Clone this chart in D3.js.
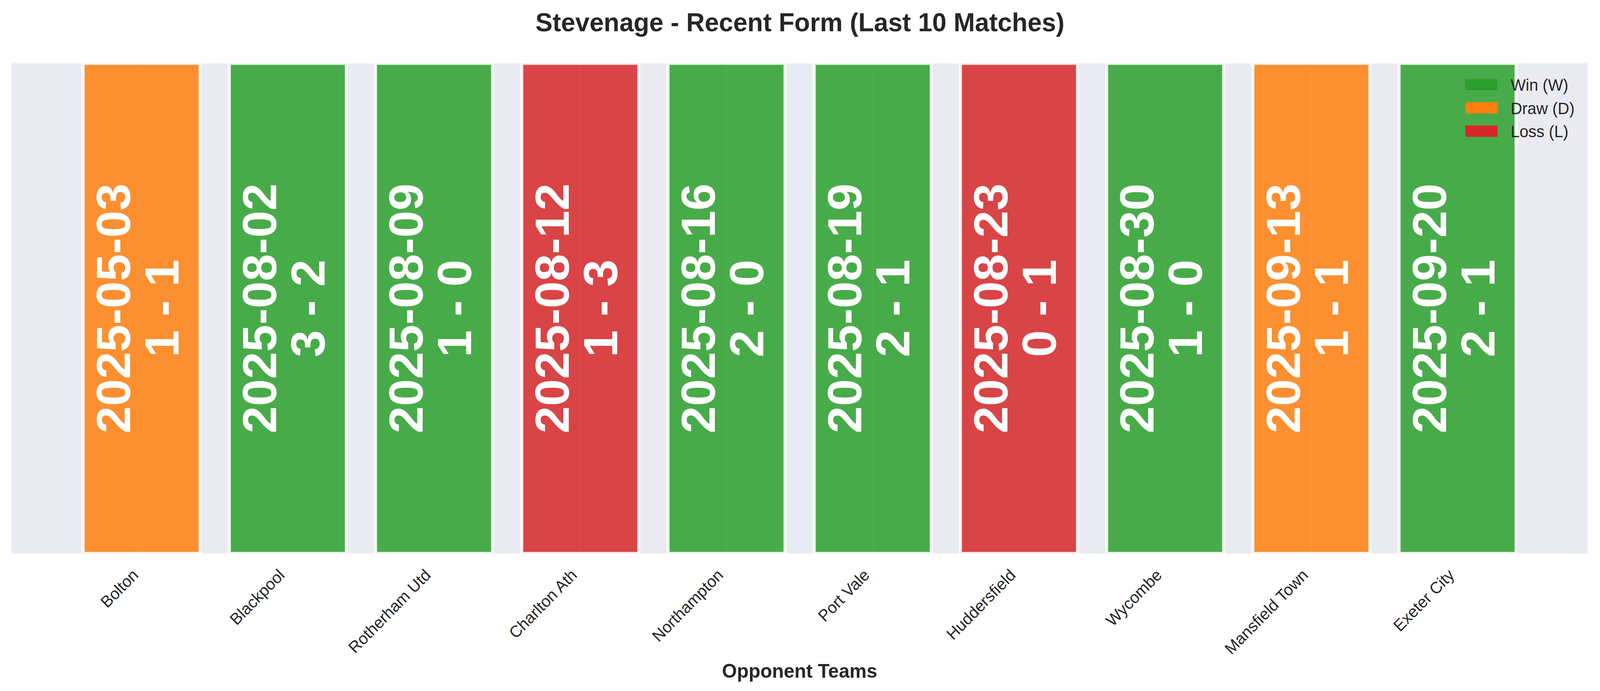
<!DOCTYPE html>
<html>
<head>
<meta charset="utf-8">
<script src="https://cdn.jsdelivr.net/npm/d3@7"></script>
<style>
  html, body { margin: 0; padding: 0; overflow: hidden; background: #ffffff; }
  svg { display: block; width: 100vw; height: 100vh; font-family: "Liberation Sans", Arial, sans-serif; }
</style>
</head>
<body>
<svg id="chart"></svg>
<script>
// match data, oldest first
const opponents = ["Bolton", "Blackpool", "Rotherham Utd", "Charlton Ath", "Northampton",
                   "Port Vale", "Huddersfield", "Wycombe", "Mansfield Town", "Exeter City"];
const matchDates = ["2025-05-03", "2025-08-02", "2025-08-09", "2025-08-12", "2025-08-16",
                    "2025-08-19", "2025-08-23", "2025-08-30", "2025-09-13", "2025-09-20"];
const scores = ["1 - 1", "3 - 2", "1 - 0", "1 - 3", "2 - 0", "2 - 1", "0 - 1", "1 - 0", "1 - 1", "2 - 1"];
const results = ["D", "W", "W", "L", "W", "W", "L", "W", "D", "W"];
const barHeights = [1, 1, 1, 1, 1, 1, 1, 1, 1, 1];

const resultKeys = ["W", "D", "L"];
const resultLabels = ["Win (W)", "Draw (D)", "Loss (L)"];
const resultColors = ["#2ca02c", "#ff7f0e", "#d62728"];

const W = 4170, H = 1768;
const margin = { top: 162, right: 32, bottom: 352, left: 30 };
const innerW = W - margin.left - margin.right;
const innerH = H - margin.top - margin.bottom;
const textColor = "#262626";

// drawn in a 4170x1768 frame, stretched to whatever the viewport is
const svg = d3.select("#chart")
    .attr("viewBox", "0 0 " + W + " " + H)
    .attr("preserveAspectRatio", "none");

const color = d3.scaleOrdinal().domain(resultKeys).range(resultColors);

const x = d3.scaleBand()
    .domain(d3.range(opponents.length))
    .range([0, innerW])
    .paddingInner(0.2)
    .paddingOuter(0.49);

const y = d3.scaleLinear().domain([0, 1]).range([innerH, 0]);

const g = svg.append("g")
    .attr("transform", "translate(" + margin.left + "," + margin.top + ")");

g.append("defs").append("clipPath").attr("id", "plotClip")
  .append("rect").attr("width", innerW).attr("height", innerH);

g.append("rect")
    .attr("width", innerW)
    .attr("height", innerH)
    .attr("fill", "#eaeaf2");

// vertical grid at each tick
g.selectAll(".grid")
    .data(d3.range(opponents.length))
    .enter()
    .append("line")
    .attr("x1", d => x(d) + x.bandwidth() / 2)
    .attr("x2", d => x(d) + x.bandwidth() / 2)
    .attr("y1", 0)
    .attr("y2", innerH)
    .attr("stroke", "#ffffff")
    .attr("stroke-width", 3.5);

const bars = g.append("g").attr("clip-path", "url(#plotClip)");

bars.selectAll("rect")
    .data(barHeights)
    .enter()
    .append("rect")
    .attr("x", (d, i) => x(i))
    .attr("y", d => y(d))
    .attr("width", x.bandwidth())
    .attr("height", d => y(0) - y(d))
    .attr("fill", (d, i) => color(results[i]))
    .attr("fill-opacity", 0.85)
    .attr("stroke", "#ffffff")
    .attr("stroke-opacity", 0.85)
    .attr("stroke-width", 8);

// date + score written up the bar
const labels = g.selectAll(".barLabel")
    .data(matchDates)
    .enter()
    .append("text")
    .attr("class", "barLabel")
    .attr("transform", (d, i) => "translate(" + (x(i) + x.bandwidth() / 2) + "," + y(0.5) + ") rotate(-90)")
    .attr("text-anchor", "middle")
    .attr("fill", "#ffffff")
    .attr("font-weight", "bold")
    .attr("font-size", 125);

labels.append("tspan").attr("x", 0).attr("y", -30).text(d => d);
labels.append("tspan").attr("x", 0).attr("y", 96).text((d, i) => scores[i]);

// x axis, no ticks, rotated names
const xAxis = g.append("g")
    .attr("transform", "translate(0," + innerH + ")")
    .call(d3.axisBottom(x).tickSize(0).tickFormat(i => opponents[i]));

xAxis.select(".domain").remove();
xAxis.selectAll("text")
    .attr("font-family", "Liberation Sans, Arial, sans-serif")
    .attr("font-size", 41.7)
    .attr("fill", textColor)
    .attr("dy", null)
    .attr("y", 0)
    .attr("text-anchor", "end")
    .attr("transform", "translate(-6,58) rotate(-45)");

svg.append("text")
    .attr("x", margin.left + innerW / 2)
    .attr("y", 1734)
    .attr("text-anchor", "middle")
    .attr("font-size", 50)
    .attr("font-weight", "bold")
    .attr("fill", textColor)
    .text("Opponent Teams");

svg.append("text")
    .attr("x", W / 2)
    .attr("y", 80)
    .attr("text-anchor", "middle")
    .attr("font-size", 66.7)
    .attr("font-weight", "bold")
    .attr("fill", textColor)
    .text("Stevenage - Recent Form (Last 10 Matches)");

// legend, top right, no frame
const legend = svg.append("g").attr("transform", "translate(3819,202)");
const items = legend.selectAll(".item")
    .data(resultKeys)
    .enter()
    .append("g")
    .attr("transform", (d, i) => "translate(0," + i * 59.5 + ")");

items.append("rect")
    .attr("width", 84)
    .attr("height", 29)
    .attr("fill", d => color(d));

items.append("text")
    .attr("x", 118)
    .attr("y", 30)
    .attr("font-size", 41.7)
    .attr("fill", textColor)
    .text((d, i) => resultLabels[i]);
</script>
</body>
</html>
